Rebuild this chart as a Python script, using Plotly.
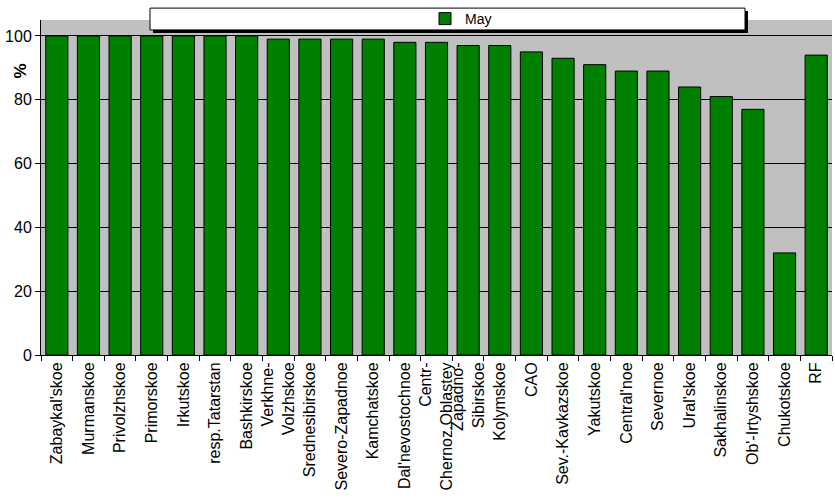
import plotly.graph_objects as go

categories = ["Zabaykal'skoe", "Murmanskoe", "Privolzhskoe", "Primorskoe", "Irkutskoe",
              "resp.Tatarstan", "Bashkirskoe", "Verkhne-<br>Volzhskoe", "Srednesibirskoe",
              "Severo-Zapadnoe", "Kamchatskoe", "Dal'nevostochnoe", "Centr-<br>Chernoz.Oblastey",
              "Zapadno-<br>Sibirskoe", "Kolymskoe", "CAO", "Sev.-Kavkazskoe", "Yakutskoe",
              "Central'noe", "Severnoe", "Ural'skoe", "Sakhalinskoe", "Ob'-Irtyshskoe",
              "Chukotskoe", "RF"]
may_values = [100, 100, 100, 100, 100, 100, 100, 99, 99, 99, 99, 98, 98, 97, 97,
              95, 93, 91, 89, 89, 84, 81, 77, 32, 94]
y_ticks = [0, 20, 40, 60, 80, 100]

FONT = "Liberation Sans, Arial, sans-serif"

fig = go.Figure()
fig.add_trace(go.Bar(
    x=categories, y=may_values, name="May",
    marker=dict(color="#008000", line=dict(color="black", width=1)),
    width=0.7,
))

L, R, T, B = 41, 3, 17, 147
W, H = 835, 502
pw, ph = W - L - R, H - T - B

def px_x(p):
    return (p - L) / pw

def px_y(p):
    return (H - B - p) / ph

# legend box with shadow
fig.add_shape(type="rect", xref="paper", yref="paper",
              x0=px_x(153), x1=px_x(748), y0=px_y(30), y1=px_y(8),
              fillcolor="black", line=dict(width=0), layer="above")
fig.add_shape(type="rect", xref="paper", yref="paper",
              x0=px_x(150), x1=px_x(745), y0=px_y(27), y1=px_y(5),
              fillcolor="white", line=dict(color="black", width=1), layer="above")

fig.add_annotation(text="<b>%</b>", xref="paper", yref="paper",
                   x=px_x(21), y=px_y(69), xanchor="center", yanchor="middle",
                   textangle=-90, showarrow=False,
                   font=dict(family=FONT, size=17, color="black"))

fig.update_layout(
    width=W, height=H,
    margin=dict(l=L, r=R, t=T, b=B),
    paper_bgcolor="white",
    plot_bgcolor="#C0C0C0",
    font=dict(family=FONT, size=16, color="black"),
    showlegend=True,
    legend=dict(x=px_x(461), xanchor="center", y=px_y(16), yanchor="middle",
                bgcolor="rgba(0,0,0,0)", font=dict(family=FONT, size=14, color="black"),
                orientation="h", itemwidth=30),
    bargap=0.3,
    xaxis=dict(tickangle=-90, showline=True, linecolor="black", linewidth=1,
               ticks="outside", ticklen=5, tickcolor="black", showgrid=False,
               tickson="boundaries", tickfont=dict(family=FONT, size=16, color="black")),
    yaxis=dict(range=[0, 105], tickvals=y_ticks, showline=True, linecolor="black",
               linewidth=1, ticks="outside", ticklen=5, tickcolor="black",
               showgrid=True, gridcolor="black", gridwidth=1, zeroline=False,
               tickfont=dict(family=FONT, size=16, color="black")),
)

fig.write_html("out.html")
